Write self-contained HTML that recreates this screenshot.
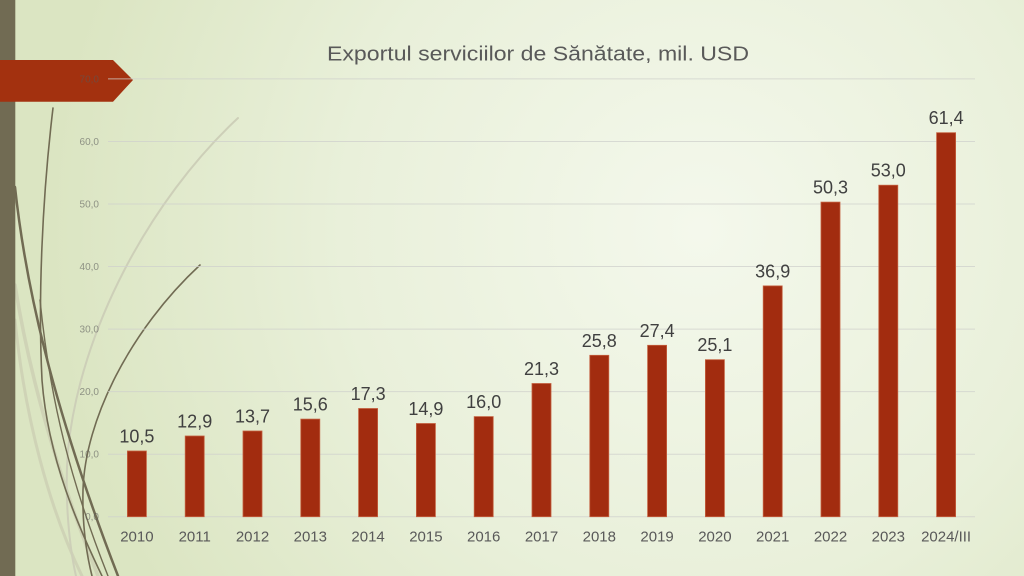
<!DOCTYPE html>
<html>
<head>
<meta charset="utf-8">
<style>
html,body{margin:0;padding:0;width:1024px;height:576px;overflow:hidden;background:#e6edd4;}
svg{display:block;}
</style>
</head>
<body>
<svg width="1024" height="576" viewBox="0 0 1024 576" xmlns="http://www.w3.org/2000/svg" font-family="'Liberation Sans', sans-serif">
  <defs>
    <radialGradient id="bg" cx="700" cy="230" r="650" gradientUnits="userSpaceOnUse">
      <stop offset="0" stop-color="#f4f8ec"/>
      <stop offset="0.55" stop-color="#e9f0da"/>
      <stop offset="1" stop-color="#dbe5c2"/>
    </radialGradient>
  </defs>
  <rect x="0" y="0" width="1024" height="576" fill="url(#bg)"/>

  <!-- decorative curves -->
  <g fill="none" stroke-linecap="round">
    <path d="M15,285 C30,380 60,480 98,576" stroke="#cfd3b6" stroke-width="3.5"/>
    <path d="M15,320 C25,420 50,510 82,576" stroke="#cfd3b6" stroke-width="3"/>
    <path d="M238,118 C150,200 80,330 68,450 C64,500 70,550 76,576" stroke="#cdcfb8" stroke-width="2"/>
    <path d="M15,187 C25,280 50,400 118,576" stroke="#716b53" stroke-width="2.5"/>
    <path d="M53,108 C42,200 38,300 42,380 C48,460 80,530 102,576" stroke="#716b53" stroke-width="1.6"/>
    <path d="M200,265 C130,330 85,420 83,490 C82,530 88,560 92,576" stroke="#716b53" stroke-width="1.6"/>
    <path d="M40,300 C50,400 70,480 108,576" stroke="#716b53" stroke-width="1.4"/>
  </g>

  <!-- left stripe -->
  <rect x="0" y="0" width="15.3" height="576" fill="#716b53"/>

  <!-- red banner -->
  <polygon points="0,60 113,60 133,80 113,101.7 0,101.7" fill="#a3310f"/>

  <!-- title -->
  <text x="538" y="60.7" font-size="20" fill="#595959" text-anchor="middle" textLength="422" lengthAdjust="spacingAndGlyphs">Exportul serviciilor de Sănătate, mil. USD</text>

  <!-- gridlines -->
  <g stroke="#cfd0cc" stroke-opacity="0.75" stroke-width="1">
    <line x1="108" y1="516.7" x2="975" y2="516.7"/>
    <line x1="108" y1="454.2" x2="975" y2="454.2"/>
    <line x1="108" y1="391.6" x2="975" y2="391.6"/>
    <line x1="108" y1="329.1" x2="975" y2="329.1"/>
    <line x1="108" y1="266.5" x2="975" y2="266.5"/>
    <line x1="108" y1="204.0" x2="975" y2="204.0"/>
    <line x1="108" y1="141.5" x2="975" y2="141.5"/>
    <line x1="108" y1="78.9" x2="975" y2="78.9"/>
  </g>

  <!-- y tick labels -->
  <g font-size="10" fill="#595959" fill-opacity="0.6" text-anchor="end">
    <text x="99" y="520.2">0,0</text>
    <text x="99" y="457.7">10,0</text>
    <text x="99" y="395.1">20,0</text>
    <text x="99" y="332.6">30,0</text>
    <text x="99" y="270.0">40,0</text>
    <text x="99" y="207.5">50,0</text>
    <text x="99" y="145.0">60,0</text>
    <text x="99" y="82.4">70,0</text>
  </g>

  <!-- bars -->
  <g fill="#a22c0f" stroke="#c4603f" stroke-width="0.8">
    <rect x="127.4" y="451.0" width="19" height="65.7"/>
    <rect x="185.2" y="436.0" width="19" height="80.7"/>
    <rect x="243.0" y="431.0" width="19" height="85.7"/>
    <rect x="300.8" y="419.1" width="19" height="97.6"/>
    <rect x="358.6" y="408.5" width="19" height="108.2"/>
    <rect x="416.4" y="423.5" width="19" height="93.2"/>
    <rect x="474.2" y="416.6" width="19" height="100.1"/>
    <rect x="532.0" y="383.5" width="19" height="133.2"/>
    <rect x="589.8" y="355.3" width="19" height="161.4"/>
    <rect x="647.6" y="345.3" width="19" height="171.4"/>
    <rect x="705.4" y="359.7" width="19" height="157.0"/>
    <rect x="763.2" y="285.9" width="19" height="230.8"/>
    <rect x="821.0" y="202.1" width="19" height="314.6"/>
    <rect x="878.8" y="185.2" width="19" height="331.5"/>
    <rect x="936.6" y="132.7" width="19" height="384.0"/>
  </g>

  <!-- data labels -->
  <g font-size="18" fill="#404040" text-anchor="middle">
    <text x="136.9" y="442.5">10,5</text>
    <text x="194.7" y="427.5">12,9</text>
    <text x="252.5" y="422.5">13,7</text>
    <text x="310.3" y="410.6">15,6</text>
    <text x="368.1" y="400.0">17,3</text>
    <text x="425.9" y="415.0">14,9</text>
    <text x="483.7" y="408.1">16,0</text>
    <text x="541.5" y="375.0">21,3</text>
    <text x="599.3" y="346.8">25,8</text>
    <text x="657.1" y="336.8">27,4</text>
    <text x="714.9" y="351.2">25,1</text>
    <text x="772.7" y="277.4">36,9</text>
    <text x="830.5" y="193.6">50,3</text>
    <text x="888.3" y="176.7">53,0</text>
    <text x="946.1" y="124.2">61,4</text>
  </g>

  <!-- category labels -->
  <g font-size="15" fill="#595959" text-anchor="middle">
    <text x="136.9" y="541.5">2010</text>
    <text x="194.7" y="541.5">2011</text>
    <text x="252.5" y="541.5">2012</text>
    <text x="310.3" y="541.5">2013</text>
    <text x="368.1" y="541.5">2014</text>
    <text x="425.9" y="541.5">2015</text>
    <text x="483.7" y="541.5">2016</text>
    <text x="541.5" y="541.5">2017</text>
    <text x="599.3" y="541.5">2018</text>
    <text x="657.1" y="541.5">2019</text>
    <text x="714.9" y="541.5">2020</text>
    <text x="772.7" y="541.5">2021</text>
    <text x="830.5" y="541.5">2022</text>
    <text x="888.3" y="541.5">2023</text>
    <text x="946.1" y="541.5">2024/III</text>
  </g>
</svg>
</body>
</html>
